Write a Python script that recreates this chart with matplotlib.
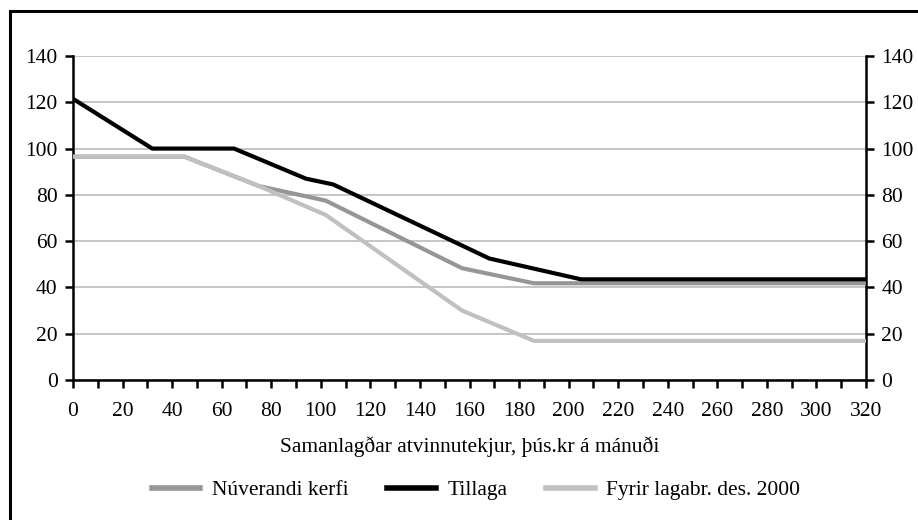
import matplotlib
matplotlib.use("Agg")
import matplotlib.pyplot as plt
from matplotlib.ticker import MultipleLocator, FuncFormatter
from matplotlib.lines import Line2D

# Series: income (thous. kr per month) vs. benefit
nuv_x = [0, 45, 75, 102, 157, 186, 320]
nuv_y = [96.5, 96.5, 83.8, 77.5, 48.3, 41.8, 41.8]

till_x = [0, 32, 65, 94, 105, 168, 205, 320]
till_y = [121.5, 100, 100, 87, 84.5, 52.5, 43.5, 43.5]

fyrir_x = [0, 45, 75, 102, 157, 186, 320]
fyrir_y = [96.5, 96.5, 83.8, 71.3, 30.0, 16.9, 16.9]

labels = ["Núverandi kerfi", "Tillaga", "Fyrir lagabr. des. 2000"]
colors = ["#969696", "#000000", "#c0c0c0"]
xlabel = "Samanlagðar atvinnutekjur, þús.kr á mánuði"

FS = 15.5
plt.rcParams["font.family"] = ["Liberation Serif", "DejaVu Serif"]
plt.rcParams["font.size"] = FS

W, H = 918, 520
fig = plt.figure(figsize=(W / 100, H / 100), dpi=100)
ax = fig.add_axes([73 / W, 1 - 380 / H, (866 - 73) / W, (380 - 56) / H])

ax.plot(nuv_x, nuv_y, color=colors[0], lw=3.0, label=labels[0], solid_joinstyle="miter", zorder=3)
ax.plot(till_x, till_y, color=colors[1], lw=3.0, label=labels[1], solid_joinstyle="miter", zorder=4)
ax.plot(fyrir_x, fyrir_y, color=colors[2], lw=3.0, label=labels[2], solid_joinstyle="miter", zorder=3)

ax.set_xlim(0, 320)
ax.set_ylim(0, 140)
ax.xaxis.set_major_locator(MultipleLocator(10))
ax.xaxis.set_major_formatter(FuncFormatter(lambda v, p: f"{int(v)}" if int(round(v)) % 20 == 0 else ""))
ax.yaxis.set_major_locator(MultipleLocator(20))

ax.grid(axis="y", color="#c0c0c0", lw=1.3, zorder=1)
ax.set_axisbelow(True)

for s in ["left", "right", "bottom"]:
    ax.spines[s].set_linewidth(1.8)
    ax.spines[s].set_color("black")
ax.spines["top"].set_visible(False)

ax.tick_params(axis="x", direction="out", length=6, width=1.8, pad=10, labelsize=FS)
ax.tick_params(axis="y", direction="out", length=6, width=1.8, pad=5, labelsize=FS,
               left=True, right=True, labelleft=True, labelright=True)

ax.set_xlabel(xlabel, fontsize=FS, labelpad=11)

leg = fig.legend(loc="center", bbox_to_anchor=(476 / W, 1 - 490 / H), ncol=3, frameon=False,
                 fontsize=FS, handlelength=2.25, handletextpad=0.55, columnspacing=1.8)
for line in leg.get_lines():
    line.set_linewidth(4)

# Outer frame (left and top edges visible)
fig.add_artist(Line2D([10 / W, 10 / W], [0, 1 - 11 / H], transform=fig.transFigure, color="black", lw=2.2))
fig.add_artist(Line2D([10 / W, 1], [1 - 11 / H, 1 - 11 / H], transform=fig.transFigure, color="black", lw=2.2))

fig.savefig("out.png", dpi=100)
